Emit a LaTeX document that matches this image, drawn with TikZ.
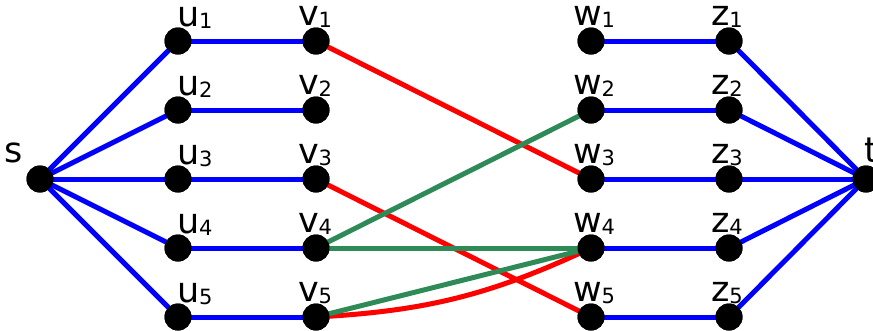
\documentclass[tikz,border=0pt]{standalone}
\usepackage{fontspec}
\setmainfont{DejaVu Sans}
\definecolor{eblue}{RGB}{0,0,255}
\definecolor{ered}{RGB}{255,0,0}
\definecolor{egreen}{RGB}{46,139,87}
\newcommand{\lbl}[2]{\fontsize{35}{35}\selectfont #1\raisebox{-2pt}{\fontsize{21}{21}\selectfont #2}}
\tikzset{
  dot/.style={circle,fill=black,draw=none,minimum size=27pt,inner sep=0pt},
  lab/.style={anchor=base west,inner sep=0pt,outer sep=0pt,text=black},
  be/.style={draw=eblue,line width=5pt},
  re/.style={draw=ered,line width=5pt},
  ge/.style={draw=egreen,line width=5pt}
}
\begin{document}
\begin{tikzpicture}[x=1pt,y=-1pt]
\useasboundingbox (0,0) rectangle (873,330);
\clip (0,0) rectangle (873,330);
% node positions
\coordinate (ps) at (40,179);
\coordinate (pt) at (866,179);
\foreach \i/\y in {1/41,2/110,3/179,4/248,5/317}{
  \coordinate (pu\i) at (178,\y);
  \coordinate (pv\i) at (316,\y);
  \coordinate (pw\i) at (591,\y);
  \coordinate (pz\i) at (729,\y);
}
% nodes
\node[dot] (s) at (ps) {};
\node[dot] (t) at (pt) {};
\foreach \i in {1,...,5}{
  \node[dot] (u\i) at (pu\i) {};
  \node[dot] (v\i) at (pv\i) {};
  \node[dot] (w\i) at (pw\i) {};
  \node[dot] (z\i) at (pz\i) {};
}
% edges
\foreach \i in {1,...,5}{
  \draw[be] (s.center) -- (u\i.center);
  \draw[be] (u\i.center) -- (v\i.center);
  \draw[be] (w\i.center) -- (z\i.center);
  \draw[be] (z\i.center) -- (t.center);
}
\draw[re] (v1.center) -- (w3.center);
\draw[re] (v3.center) -- (w5.center);
\draw[re] (v5.center) to[bend right=11] (w4.center);
\draw[ge] (v4.center) -- (w2.center);
\draw[ge] (v4.center) -- (w4.center);
\draw[ge] (v5.center) -- (w4.center);
% redraw dots on top of the edges
\foreach \n in {s,t,u1,u2,u3,u4,u5,v1,v2,v3,v4,v5,w1,w2,w3,w4,w5,z1,z2,z3,z4,z5}{
  \fill[black] (\n.center) circle (13.5pt);
}
% labels
\node[lab] (ls) at ([shift={(-35,-17)}]s.center) {\lbl{s}{}};
\node[lab] (lt) at ([shift={(-2,-17)}]t.center) {\lbl{t}{}};
\foreach \i in {1,...,5}{
  \node[lab] (lu\i) at ([shift={(-1,-15)}]u\i.center) {\lbl{u}{\i}};
  \node[lab] (lv\i) at ([shift={(-18,-16)}]v\i.center) {\lbl{v}{\i}};
  \node[lab] (lw\i) at ([shift={(-18,-16)}]w\i.center) {\lbl{w}{\i}};
  \node[lab] (lz\i) at ([shift={(-18,-16)}]z\i.center) {\lbl{z}{\i}};
}
\end{tikzpicture}
\end{document}
